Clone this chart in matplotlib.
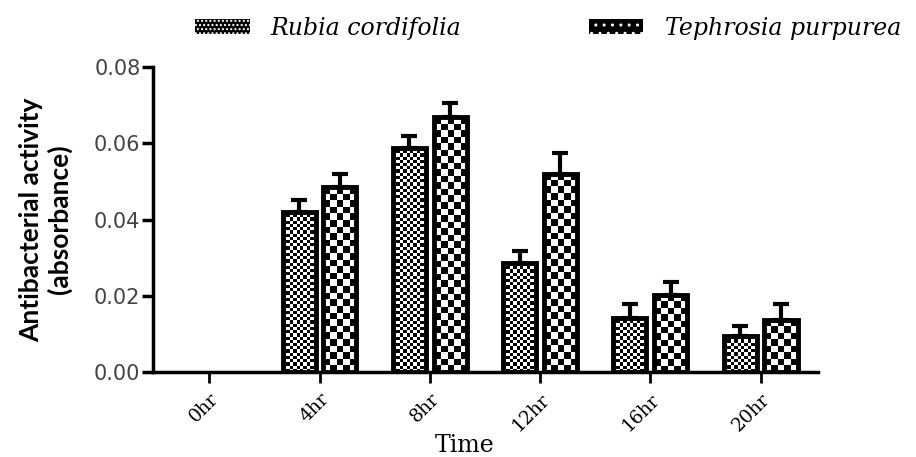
import numpy as np
import matplotlib
matplotlib.use("Agg")
import matplotlib.pyplot as plt
from matplotlib.patches import Patch

# values
times = ["0hr", "4hr", "8hr", "12hr", "16hr", "20hr"]
rubia = [0.0, 0.042, 0.0588, 0.0286, 0.0142, 0.0094]
rubia_err = [0.0, 0.0032, 0.0031, 0.0031, 0.0036, 0.0027]
tephrosia = [0.0, 0.0485, 0.0669, 0.052, 0.0202, 0.0136]
tephrosia_err = [0.0, 0.0035, 0.0037, 0.0055, 0.0034, 0.0042]
series_names = ["Rubia cordifolia", "Tephrosia purpurea"]


def checker_fill(ax, bar, cell):
    """fill a bar with a black/white checkerboard of roughly `cell` pixels"""
    x0, y0 = bar.get_x(), bar.get_y()
    w, h = bar.get_width(), bar.get_height()
    if h <= 0:
        bar.set_visible(False)
        return
    (px0, py0), (px1, py1) = ax.transData.transform([(x0, y0), (x0 + w, y0 + h)])
    nx = max(1, int(round((px1 - px0) / cell)))
    ny = max(1, int(round((py1 - py0) / cell)))
    tex = np.indices((ny, nx)).sum(axis=0) % 2
    im = ax.imshow(tex, cmap="gray", vmin=0, vmax=1, extent=[x0, x0 + w, y0, y0 + h],
                   interpolation="nearest", aspect="auto", zorder=2)
    im.set_clip_path(bar)


fig = plt.figure(figsize=(9.16, 4.57), dpi=100)
ax = fig.add_axes([0.167, 0.186, 0.726, 0.667])
ax.set_xlim(-0.51, 5.52)
ax.set_ylim(0, 0.08)

x = np.arange(len(times))
width = 0.30
off = 0.185

bars_r = ax.bar(x - off, rubia, width, facecolor="none", edgecolor="black", linewidth=3.5, zorder=3)
bars_t = ax.bar(x + off, tephrosia, width, facecolor="none", edgecolor="black", linewidth=3.5, zorder=3)

for b in bars_r:
    checker_fill(ax, b, 3.2)
for b in bars_t:
    checker_fill(ax, b, 6.5)

for xs, vals, errs in [(x - off, rubia, rubia_err), (x + off, tephrosia, tephrosia_err)]:
    vals = np.array(vals)
    errs = np.array(errs)
    m = vals > 0
    ax.errorbar(xs[m], vals[m], yerr=[np.zeros(m.sum()), errs[m]], fmt="none",
                ecolor="black", elinewidth=3, capsize=6, capthick=3, zorder=4)

ax.set_xlim(-0.51, 5.52)
ax.set_ylim(0, 0.08)

for s in ["top", "right"]:
    ax.spines[s].set_visible(False)
for s in ["left", "bottom"]:
    ax.spines[s].set_linewidth(2.5)

ax.set_yticks([0, 0.02, 0.04, 0.06, 0.08])
ax.set_yticklabels(["0.00", "0.02", "0.04", "0.06", "0.08"], fontfamily="DejaVu Sans",
                   fontsize=15, color="#444444")
ax.tick_params(axis="y", length=8, width=2.5, pad=1)

ax.set_xticks(x)
ax.set_xticklabels(times, rotation=45, fontfamily="DejaVu Serif", fontsize=13.5,
                   ha="right", rotation_mode="anchor")
ax.tick_params(axis="x", length=8, width=2, pad=5)

ax.set_xlabel("Time", fontfamily="DejaVu Serif", fontsize=17)
ax.xaxis.set_label_coords(0.468, -0.205)
ax.set_ylabel("Antibacterial activity\n(absorbance)", fontfamily="Lato", fontweight="bold",
              fontsize=19, labelpad=16, linespacing=1.15)

handles = [Patch(facecolor="black", edgecolor="white", hatch="....", linewidth=0),
           Patch(facecolor="black", edgecolor="white", hatch="..", linewidth=0)]
fig.legend(handles, series_names, loc="upper left", bbox_to_anchor=(0.19, 1.01),
           ncol=2, frameon=False, handlelength=2.3, handleheight=0.65,
           columnspacing=5.4, handletextpad=0.9,
           prop={"family": "DejaVu Serif", "style": "italic", "size": 17})

fig.savefig("out.png", dpi=100)
